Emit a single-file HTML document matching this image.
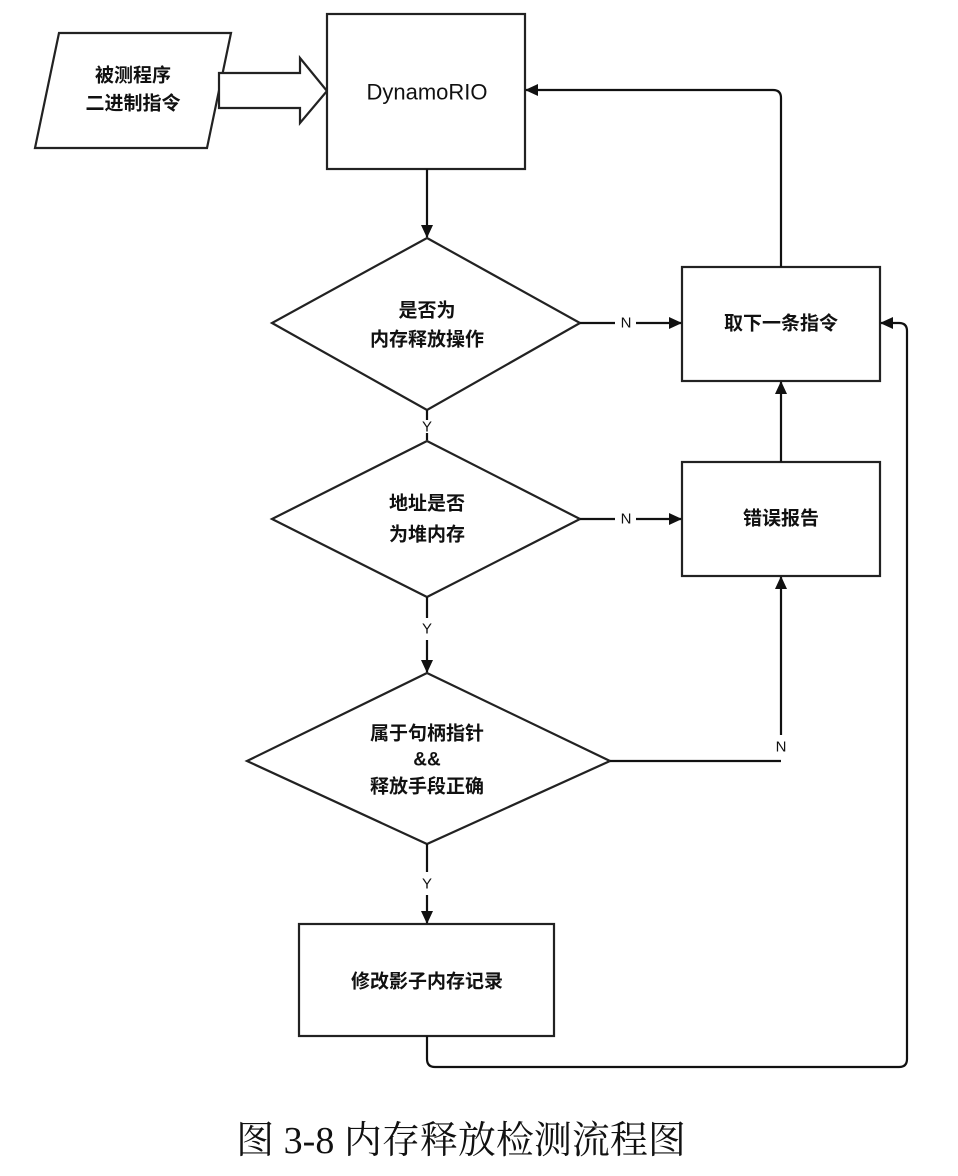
<!DOCTYPE html>
<html><head><meta charset="utf-8"><style>
body{margin:0;background:#fff;}
svg{display:block}
.t{font-family:"Liberation Sans","Noto Sans CJK SC",sans-serif;font-weight:bold;font-size:19px;fill:#111;text-anchor:middle;dominant-baseline:central}
.l{font-family:"Liberation Sans",sans-serif;font-size:15px;fill:#111;text-anchor:middle;dominant-baseline:central}
</style></head><body>
<svg width="958" height="1176" viewBox="0 0 958 1176" xmlns="http://www.w3.org/2000/svg">
<defs><marker id="a" markerWidth="13" markerHeight="12" refX="12" refY="6" orient="auto" markerUnits="userSpaceOnUse"><path d="M0,0 L13,6 L0,12 z" fill="#111"/></marker></defs>
<g stroke="#222" stroke-width="2.2" fill="#fff">
<polygon points="59,33 231,33 207,148 35,148"/>
<polygon points="219,73 300,73 300,58 327,91 300,123 300,108 219,108"/>
<rect x="327" y="14" width="198" height="155"/>
<polygon points="427,238 580,323 427,410 272,323"/>
<rect x="682" y="267" width="198" height="114"/>
<polygon points="427,441 580,519 427,597 272,519"/>
<rect x="682" y="462" width="198" height="114"/>
<polygon points="427,673 610,761 427,844 247,761"/>
<rect x="299" y="924" width="255" height="112"/>
</g>
<g stroke="#111" stroke-width="2.2" fill="none">
<line x1="427" y1="169" x2="427" y2="237" marker-end="url(#a)"/>
<line x1="580" y1="323" x2="615" y2="323"/><line x1="636" y1="323" x2="681" y2="323" marker-end="url(#a)"/>
<line x1="580" y1="519" x2="615" y2="519"/><line x1="636" y1="519" x2="681" y2="519" marker-end="url(#a)"/>
<line x1="781" y1="462" x2="781" y2="382" marker-end="url(#a)"/>
<path d="M781,267 L781,98 Q781,90 773,90 L526,90" marker-end="url(#a)"/>
<line x1="427" y1="410" x2="427" y2="420"/><line x1="427" y1="433" x2="427" y2="440"/>
<line x1="427" y1="597" x2="427" y2="618"/><line x1="427" y1="640" x2="427" y2="672" marker-end="url(#a)"/>
<path d="M610,761 L781,761 M781,735 L781,577" marker-end="url(#a)"/>
<line x1="427" y1="844" x2="427" y2="872"/><line x1="427" y1="895" x2="427" y2="923" marker-end="url(#a)"/>
<path d="M427,1036 L427,1059 Q427,1067 435,1067 L899,1067 Q907,1067 907,1059 L907,331 Q907,323 899,323 L881,323" marker-end="url(#a)"/>
</g>
<text class="t" x="133" y="76">被测程序</text>
<text class="t" x="133" y="104">二进制指令</text>
<text class="t" x="427" y="92" style="font-size:22px;font-weight:normal">DynamoRIO</text>
<text class="t" x="427" y="311">是否为</text>
<text class="t" x="427" y="340">内存释放操作</text>
<text class="t" x="781" y="324">取下一条指令</text>
<text class="t" x="427" y="504">地址是否</text>
<text class="t" x="427" y="535">为堆内存</text>
<text class="t" x="781" y="519">错误报告</text>
<text class="t" x="427" y="734">属于句柄指针</text>
<text class="t" x="427" y="760">&amp;&amp;</text>
<text class="t" x="427" y="787">释放手段正确</text>
<text class="t" x="427" y="982">修改影子内存记录</text>
<text class="l" x="626" y="323">N</text>
<text class="l" x="626" y="519">N</text>
<text class="l" x="781" y="747">N</text>
<text class="l" x="427" y="427">Y</text>
<text class="l" x="427" y="629">Y</text>
<text class="l" x="427" y="884">Y</text>
<text x="461" y="1141" style="font-family:'Liberation Serif','Noto Serif CJK SC',serif;font-size:38px;fill:#111;text-anchor:middle;dominant-baseline:central">图 3-8  内存释放检测流程图</text>
</svg>
</body></html>
